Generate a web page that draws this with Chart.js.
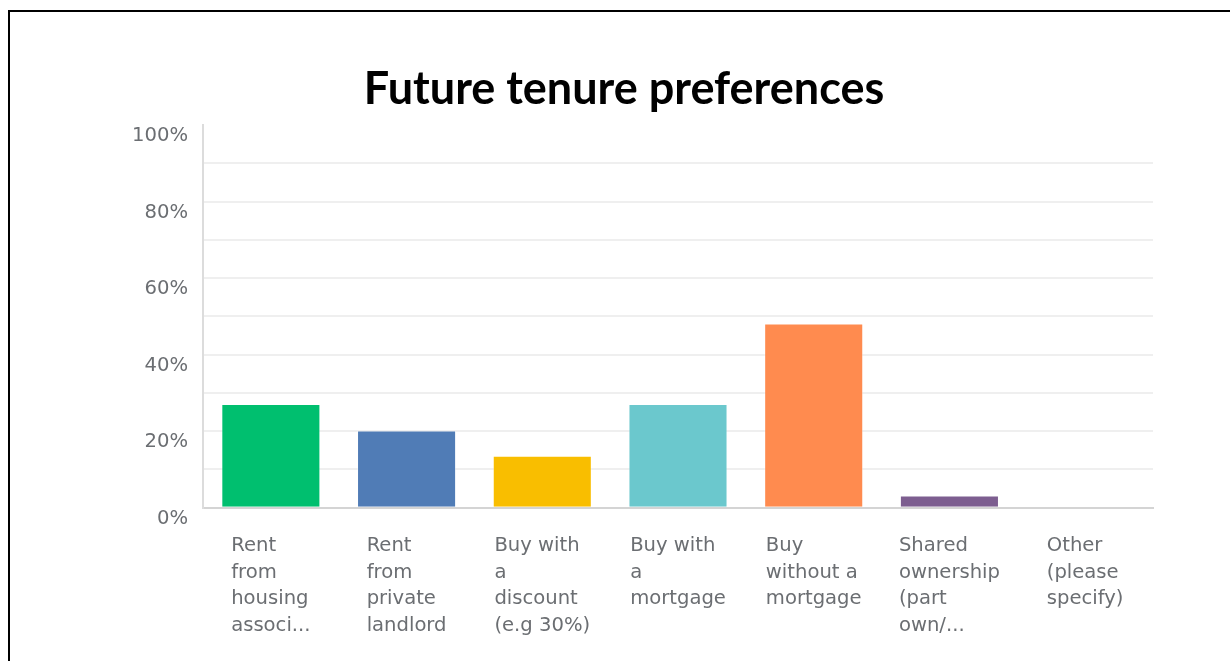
<!DOCTYPE html>
<html>
<head>
<meta charset="utf-8">
<title>Future tenure preferences</title>
<script src="https://cdn.jsdelivr.net/npm/chart.js@4/dist/chart.umd.min.js"></script>
<style>
  html, body { margin:0; padding:0; background:#fff; overflow:hidden; }
  #frame { position:absolute; left:8px; top:10px; width:1300px; height:700px;
           border-top:2px solid #000; border-left:2px solid #000; }
  #chart { position:absolute; left:0; top:0; }
</style>
</head>
<body>
<div id="frame"></div>
<canvas id="chart" width="1230" height="661"></canvas>
<script>
// ── Données ──
const categories = [
  ['Rent', 'from', 'housing', 'associ...'],
  ['Rent', 'from', 'private', 'landlord'],
  ['Buy with', 'a', 'discount', '(e.g 30%)'],
  ['Buy with', 'a', 'mortgage'],
  ['Buy', 'without a', 'mortgage'],
  ['Shared', 'ownership', '(part', 'own/...'],
  ['Other', '(please', 'specify)']
];
const percentages = [27.1, 20.2, 13.6, 27.1, 48.1, 3.2, 0];
const barColors = ['#00BF6F', '#507CB6', '#F9BE00', '#6BC8CD', '#FF8B4F', '#7D5E90', '#A0A0A0'];
const yTickLabels = ['0%', '20%', '40%', '60%', '80%', '100%'];

const tickFont = { family: "'DejaVu Sans', sans-serif", size: 19.6, lineHeight: 1.357 };
const tickColor = '#6b6e72';

// ── Étiquettes X : bloc aligné à gauche, centré sous la catégorie ──
const blockLabels = {
  id: 'blockLabels',
  beforeDraw(chart) {
    const s = chart.scales.x;
    const ctx = chart.ctx;
    ctx.save();
    ctx.font = `${tickFont.size}px ${tickFont.family}`;
    s.getLabelItems().forEach((it, i) => {
      const lines = Array.isArray(it.label) ? it.label : [it.label];
      const w = Math.max(...lines.map(l => ctx.measureText(l).width));
      it.options.translation[0] = s.getPixelForTick(i) - w / 2;
      it.options.textAlign = 'left';
    });
    ctx.restore();
  }
};

new Chart(document.getElementById('chart').getContext('2d'), {
  type: 'bar',
  data: {
    labels: categories,
    datasets: [{
      data: percentages,
      backgroundColor: barColors,
      borderColor: 'rgba(255,255,255,0.35)',
      borderWidth: 1,
      barPercentage: 0.73,
      categoryPercentage: 1
    }]
  },
  plugins: [blockLabels],
  options: {
    responsive: false,
    animation: false,
    events: [],
    layout: { padding: { left: 95, right: 77, top: 0, bottom: 0 } },
    plugins: {
      legend: { display: false },
      tooltip: { enabled: false },
      title: {
        display: true,
        text: 'Future tenure preferences',
        color: '#000',
        font: { family: 'Lato, sans-serif', size: 45, weight: 'bold', lineHeight: 1.2 },
        padding: { top: 62, bottom: 9 }
      }
    },
    scales: {
      x: {
        grid: { display: false },
        border: { display: true, color: '#d4d4d4', width: 2 },
        ticks: {
          color: tickColor, font: tickFont,
          align: 'start',
          padding: 17, maxRotation: 0, autoSkip: false
        },
        afterFit: s => { s.height = 153.3; }
      },
      y: {
        min: 0, max: 100,
        grid: {
          drawTicks: false, lineWidth: 2,
          color: c => (c.tick && (c.tick.value === 0 || c.tick.value === 100)) ? 'rgba(0,0,0,0)' : '#efefef'
        },
        border: { display: true, color: '#dcdcdc', width: 2 },
        ticks: {
          stepSize: 10, color: tickColor, font: tickFont,
          padding: 15, labelOffset: 11,
          callback: v => (v % 20 === 0 ? yTickLabels[v / 20] : '')
        },
        afterFit: s => { s.width = 108; }
      }
    }
  }
});
</script>
</body>
</html>
